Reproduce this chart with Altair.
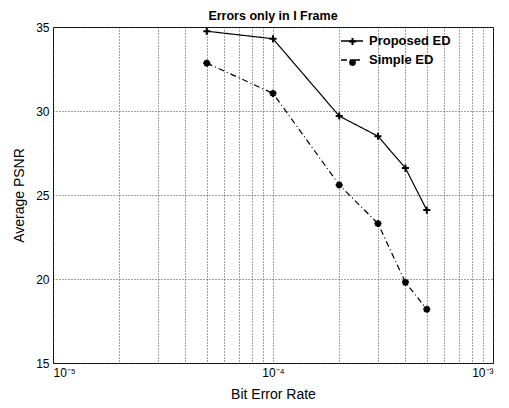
import altair as alt
import pandas as pd

ber = [5e-5, 1e-4, 2e-4, 3e-4, 4e-4, 5e-4]
proposed = [34.75, 34.3, 29.7, 28.5, 26.6, 24.1]
simple = [32.85, 31.05, 25.6, 23.3, 19.8, 18.2]
series_names = ["Proposed ED", "Simple ED"]
x_grid = [1e-5, 2e-5, 3e-5, 4e-5, 5e-5, 6e-5, 7e-5, 8e-5, 9e-5,
          1e-4, 2e-4, 3e-4, 4e-4, 5e-4, 6e-4, 7e-4, 8e-4, 9e-4, 1e-3]
y_ticks = [15, 20, 25, 30, 35]

rows = []
for name, vals in zip(series_names, [proposed, simple]):
    for b, v in zip(ber, vals):
        rows.append({"ber": b, "psnr": v, "series": name, "marker": name})
df = pd.DataFrame(rows)

plus_path = "M-1,0L1,0M0,-1L0,1"
star_path = "M-1,0L1,0M0,-1L0,1M-0.7,-0.7L0.7,0.7M-0.7,0.7L0.7,-0.7"

x_enc = alt.X(
    "ber:Q",
    scale=alt.Scale(type="log", domain=[1e-5, 1e-3], nice=False),
    axis=alt.Axis(
        values=x_grid,
        labelExpr="datum.value == 0.00001 ? '10⁻⁵' : (datum.value == 0.0001 ? '10⁻⁴' : (datum.value == 0.001 ? '10⁻³' : ''))",
        title="Bit Error Rate",
        grid=True,
    ),
)
y_enc = alt.Y(
    "psnr:Q",
    scale=alt.Scale(domain=[15, 35], nice=False),
    axis=alt.Axis(values=y_ticks, title="Average PSNR", grid=True),
)

LX, LY = 287, 2

line_legend = alt.Legend(
    title=None,
    orient="none",
    legendX=LX,
    legendY=LY,
    symbolType="stroke",
    symbolSize=484,
    symbolStrokeWidth=1.3,
    symbolStrokeColor="black",
    labelFontSize=13,
    labelFontWeight="bold",
    labelOffset=5,
    rowPadding=0,
    padding=0,
)

marker_legend = alt.Legend(
    title=None,
    orient="none",
    legendX=LX + 7.5,
    legendY=LY + 7.5,
    symbolSize=50,
    symbolStrokeWidth=2,
    symbolStrokeColor="black",
    symbolFillColor="transparent",
    labelFontSize=1,
    labelExpr="''",
    rowPadding=5,
    padding=0,
)

lines = alt.Chart(df).mark_line(color="black", strokeWidth=1.2).encode(
    x=x_enc,
    y=y_enc,
    strokeDash=alt.StrokeDash(
        "series:N",
        scale=alt.Scale(domain=series_names, range=[[1, 0], [6, 3, 1, 3]]),
        legend=line_legend,
    ),
)

points = alt.Chart(df).mark_point(
    color="black", filled=False, strokeWidth=2, size=50, opacity=1
).encode(
    x=x_enc,
    y=y_enc,
    shape=alt.Shape(
        "marker:N",
        scale=alt.Scale(domain=series_names, range=[plus_path, star_path]),
        legend=marker_legend,
    ),
)

chart = (
    alt.layer(lines, points)
    .resolve_legend(shape="independent", strokeDash="independent")
    .properties(
        width=440,
        height=336,
        title=alt.TitleParams(
            "Errors only in I Frame",
            fontSize=12.5,
            fontWeight="bold",
            font="Liberation Sans",
            offset=-1,
            frame="group",
        ),
        autosize=alt.AutoSizeParams(type="none"),
        padding={"left": 45, "top": 19, "right": 8, "bottom": 45},
    )
    .configure_view(stroke="black", strokeWidth=1)
    .configure_axis(
        gridColor="#444444",
        gridDash=[1, 2],
        gridWidth=1,
        domain=False,
        ticks=False,
        labelFont="Liberation Sans",
        labelFontSize=12,
        labelColor="black",
        titleFont="Liberation Sans",
        titleFontSize=14,
        titleFontWeight="normal",
        titleColor="black",
        labelPadding=4,
    )
    .configure_axisY(titlePadding=9)
    .configure_axisX(titlePadding=9)
    .configure_legend(labelFont="Liberation Sans", labelColor="black")
)

chart.save("out.html", embed_options={"renderer": "svg", "actions": False})
